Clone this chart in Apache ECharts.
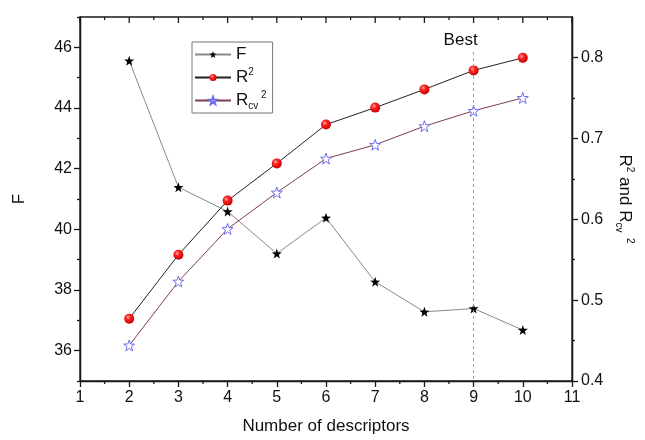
<!DOCTYPE html>
<html>
<head>
<meta charset="utf-8">
<script src="https://cdn.jsdelivr.net/npm/echarts@6/dist/echarts.min.js"></script>
<style>html,body{margin:0;padding:0;background:#fff}#c{width:645px;height:440px}</style>
</head>
<body>
<div id="c"></div>
<script>
const descriptors = [2, 3, 4, 5, 6, 7, 8, 9, 10];
const fValues = [45.56, 41.39, 40.59, 39.20, 40.38, 38.27, 37.28, 37.39, 36.68];
const r2Values = [0.477, 0.556, 0.623, 0.669, 0.717, 0.738, 0.7605, 0.784, 0.7995];
const rcv2Values = [0.444, 0.523, 0.588, 0.633, 0.675, 0.692, 0.715, 0.734, 0.750];
const xTicks = [1, 2, 3, 4, 5, 6, 7, 8, 9, 10, 11];
const xMinorTicks = [1.5, 2.5, 3.5, 4.5, 5.5, 6.5, 7.5, 8.5, 9.5, 10.5];
const fTickLabels = [36, 38, 40, 42, 44, 46];
const fMinorTicks = [35, 37, 39, 41, 43, 45, 47];
const rTickLabels = [0.4, 0.5, 0.6, 0.7, 0.8];
const rMinorTicks = [0.45, 0.55, 0.65, 0.75];
const bestX = 9;
const bestTopF = 45.85;

const FONT = 'Liberation Sans';
const STAR = 'path://M0,-10 L2.35,-3.24 L9.51,-3.09 L3.8,1.24 L5.88,8.09 L0,4 L-5.88,8.09 L-3.8,1.24 L-9.51,-3.09 L-2.35,-3.24 Z';
const AX = '#1a1a1a';

function pairs(xs, ys) { return xs.map((x, i) => [x, ys[i]]); }

const richSS = {
  a: { fontFamily: FONT, fontSize: 17, color: '#111', lineHeight: 21 },
  sup: { fontFamily: FONT, fontSize: 10, color: '#111', verticalAlign: 'top', lineHeight: 12 },
  sub: { fontFamily: FONT, fontSize: 10, color: '#111', verticalAlign: 'bottom', lineHeight: 12 }
};

const chart = echarts.init(document.getElementById('c'), null, { renderer: 'canvas' });

const option = {
  animation: false,
  backgroundColor: '#fff',
  grid: { left: 80, right: 73, top: 17, bottom: 57.5, containLabel: false,
    show: true, borderColor: AX, borderWidth: 1.3, backgroundColor: 'transparent' },
  legend: {
    orient: 'vertical', left: 192, top: 42,
    borderColor: '#777', borderWidth: 1, padding: [4, 6, 2, 2],
    itemWidth: 36, itemHeight: 9, itemGap: 4,
    data: ['F', 'R2', 'Rcv2'],
    formatter: function (n) {
      if (n === 'F') return '{a|F}';
      if (n === 'R2') return '{a|R}{sup|2}';
      return '{a|R}{sub|cv}{sup| 2}';
    },
    textStyle: { rich: richSS }
  },
  xAxis: [
    {
      type: 'value', min: 1, max: 11, interval: 1, position: 'bottom',
      splitLine: { show: false },
      axisLine: { show: true, onZero: false, lineStyle: { color: AX, width: 1.3 } },
      axisTick: { show: true, length: 6, lineStyle: { color: AX, width: 1.3 } },
      axisLabel: { fontFamily: FONT, fontSize: 16, color: '#111', margin: 9 },
      name: 'Number of descriptors', nameLocation: 'middle', nameGap: 37,
      nameTextStyle: { fontFamily: FONT, fontSize: 17, color: '#111' }
    }
  ],
  yAxis: [
    {
      type: 'value', min: 35, max: 47, interval: 1, position: 'left',
      splitLine: { show: false },
      axisLine: { show: true, onZero: false, lineStyle: { color: AX, width: 1.3 } },
      axisTick: { length: 6, customValues: fTickLabels, lineStyle: { color: AX, width: 1.3 } },
      axisLabel: { customValues: fTickLabels, fontFamily: FONT, fontSize: 16, color: '#111', margin: 8 },
      name: 'F', nameLocation: 'middle', nameGap: 52, nameRotate: 90,
      nameTextStyle: { fontFamily: FONT, fontSize: 17, color: '#111' }
    },
    {
      type: 'value', min: 35, max: 47, interval: 1, position: 'left',
      splitLine: { show: false },
      axisLine: { show: true, onZero: false, lineStyle: { color: AX, width: 1.3 } },
      axisTick: { length: 3, customValues: fMinorTicks, lineStyle: { color: AX, width: 1.3 } },
      axisLabel: { show: false }
    },
    {
      type: 'value', min: 0.4, max: 0.85, interval: 0.05, position: 'right',
      splitLine: { show: false },
      axisLine: { show: true, onZero: false, lineStyle: { color: AX, width: 1.3 } },
      axisTick: { length: 6, customValues: rTickLabels, lineStyle: { color: AX, width: 1.3 } },
      axisLabel: { customValues: rTickLabels, fontFamily: FONT, fontSize: 16, color: '#111', margin: 9,
        formatter: v => v.toFixed(1) },
      name: '{a|R}{sup|2}{a| and R}{sub|cv}{sup|  2}', nameLocation: 'middle', nameGap: 40, nameRotate: -90,
      nameTextStyle: { rich: richSS }
    },
    {
      type: 'value', min: 0.4, max: 0.85, interval: 0.05, position: 'right',
      splitLine: { show: false },
      axisLine: { show: true, onZero: false, lineStyle: { color: AX, width: 1.3 } },
      axisTick: { length: 3, customValues: rMinorTicks, lineStyle: { color: AX, width: 1.3 } },
      axisLabel: { show: false }
    }
  ],
  series: [
    {
      name: 'F', type: 'line', xAxisIndex: 0, yAxisIndex: 0,
      data: pairs(descriptors, fValues),
      symbol: STAR, symbolSize: 10,
      itemStyle: { color: '#000' },
      lineStyle: { color: '#8a8a8a', width: 1 },
      z: 3,
      markLine: {
        silent: true, symbol: 'none',
        lineStyle: { type: [3, 3], color: '#9a9a9a', width: 1 },
        label: { show: true, position: 'start', formatter: 'Best', fontFamily: FONT, fontSize: 17, color: '#111',
          distance: 3, padding: [0, 26, 0, 0] },
        data: [[{ coord: [bestX, bestTopF] }, { coord: [bestX, 35] }]]
      }
    },
    {
      name: 'R2', type: 'line', xAxisIndex: 0, yAxisIndex: 2,
      data: pairs(descriptors, r2Values),
      symbol: 'circle', symbolSize: 10,
      itemStyle: {
        color: new echarts.graphic.RadialGradient(0.38, 0.35, 0.7, [
          { offset: 0, color: '#ffb0b0' }, { offset: 0.35, color: '#ff2020' }, { offset: 1, color: '#c00000' }
        ])
      },
      lineStyle: { color: '#222', width: 1 },
      z: 4
    },
    {
      name: 'Rcv2', type: 'line', xAxisIndex: 0, yAxisIndex: 2,
      data: pairs(descriptors, rcv2Values),
      symbol: STAR, symbolSize: 11,
      itemStyle: { color: '#fff', borderColor: '#6f6fef', borderWidth: 1 },
      lineStyle: { color: '#7d3c56', width: 1 },
      z: 4
    }
  ]
};
chart.setOption(option);

// Frame ticks on top (inside) and minor ticks on bottom (outside), positioned through the x scale.
const topY = chart.convertToPixel({ yAxisIndex: 0 }, 47);
const botY = chart.convertToPixel({ yAxisIndex: 0 }, 35);
const tickEls = [];
function addTick(v, y, len) {
  const x = chart.convertToPixel({ xAxisIndex: 0 }, v);
  tickEls.push({ type: 'line', silent: true, z: 10,
    shape: { x1: x, y1: y, x2: x, y2: y + len },
    style: { stroke: AX, lineWidth: 1.3 } });
}
xTicks.forEach(v => addTick(v, topY, 6));
xMinorTicks.forEach(v => { addTick(v, topY, 3); addTick(v, botY, 3); });
chart.setOption({ graphic: tickEls });
</script>
</body>
</html>
